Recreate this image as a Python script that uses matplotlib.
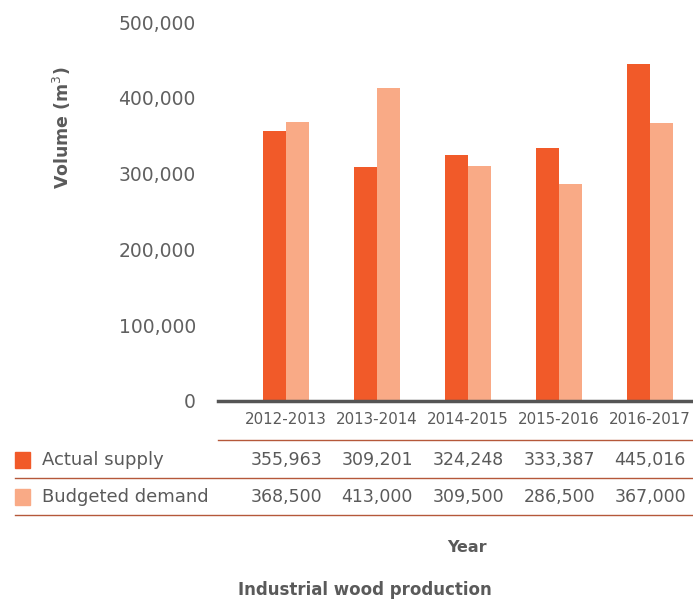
import matplotlib
matplotlib.use("Agg")
import matplotlib.pyplot as plt
import numpy as np
from matplotlib.transforms import blended_transform_factory
from matplotlib.lines import Line2D
from matplotlib.patches import Rectangle

years = ['2012-2013', '2013-2014', '2014-2015', '2015-2016', '2016-2017']
actual_supply = [355963, 309201, 324248, 333387, 445016]
budgeted_demand = [368500, 413000, 309500, 286500, 367000]
yticks = [0, 100000, 200000, 300000, 400000, 500000]

c_actual = '#F15A29'
c_budget = '#F9AA86'
c_text = '#5a5a5a'
c_rule = '#B5583A'

plt.rcParams['font.family'] = ['DejaVu Sans']

W, H = 693, 602
fig = plt.figure(figsize=(W / 100, H / 100), dpi=100)
ax = fig.add_axes([218 / W, 1 - 401 / H, 1 - 218 / W, (401 - 22) / H])

x = np.arange(len(years))
bw = 0.25
ax.bar(x - bw / 2, actual_supply, bw, color=c_actual)
ax.bar(x + bw / 2, budgeted_demand, bw, color=c_budget)

ax.set_xlim(-0.75, 4.47)
ax.set_ylim(0, 500000)
ax.set_yticks(yticks)
ax.set_yticklabels([f'{v:,}' for v in yticks], fontsize=13.5, color='#606060')
ax.tick_params(axis='y', length=0, pad=16)
ax.set_xticks([])
for s in ['top', 'right', 'left']:
    ax.spines[s].set_visible(False)
ax.spines['bottom'].set_color('#555555')
ax.spines['bottom'].set_linewidth(2.5)

fig.text(62 / W, 1 - 128 / H, 'Volume (m$^3$)', rotation=90, ha='center', va='center',
         fontsize=12.5, color=c_text, fontweight='bold')

tr = blended_transform_factory(ax.transData, fig.transFigure)

def fy(py):
    return 1 - py / H

# year row
for i, yr in enumerate(years):
    fig.text(x[i], fy(420), yr, transform=tr, ha='center', va='center',
             fontsize=10.8, color=c_text)

rows = [('Actual supply', actual_supply, c_actual, 460),
        ('Budgeted demand', budgeted_demand, c_budget, 497)]
for label, vals, col, py in rows:
    fig.patches.append(Rectangle((15 / W, fy(py + 8)), 15 / W, 16 / H,
                                 transform=fig.transFigure, color=col))
    fig.text(42 / W, fy(py), label, ha='left', va='center', fontsize=13, color=c_text)
    for i, v in enumerate(vals):
        fig.text(x[i], fy(py), f'{v:,}', transform=tr, ha='center', va='center',
                 fontsize=12.5, color=c_text)

fig.lines.append(Line2D([218 / W, 1], [fy(440), fy(440)], transform=fig.transFigure,
                        color=c_rule, lw=1))
for py in [478, 515]:
    fig.lines.append(Line2D([15 / W, 1], [fy(py), fy(py)], transform=fig.transFigure,
                            color=c_rule, lw=1))

fig.text(467 / W, fy(548), 'Year', ha='center', va='center', fontsize=11.5,
         color=c_text, fontweight='bold')
fig.text(365 / W, fy(590), 'Industrial wood production', ha='center', va='center',
         fontsize=12, color=c_text, fontweight='bold')

fig.savefig('out.png', dpi=100)
